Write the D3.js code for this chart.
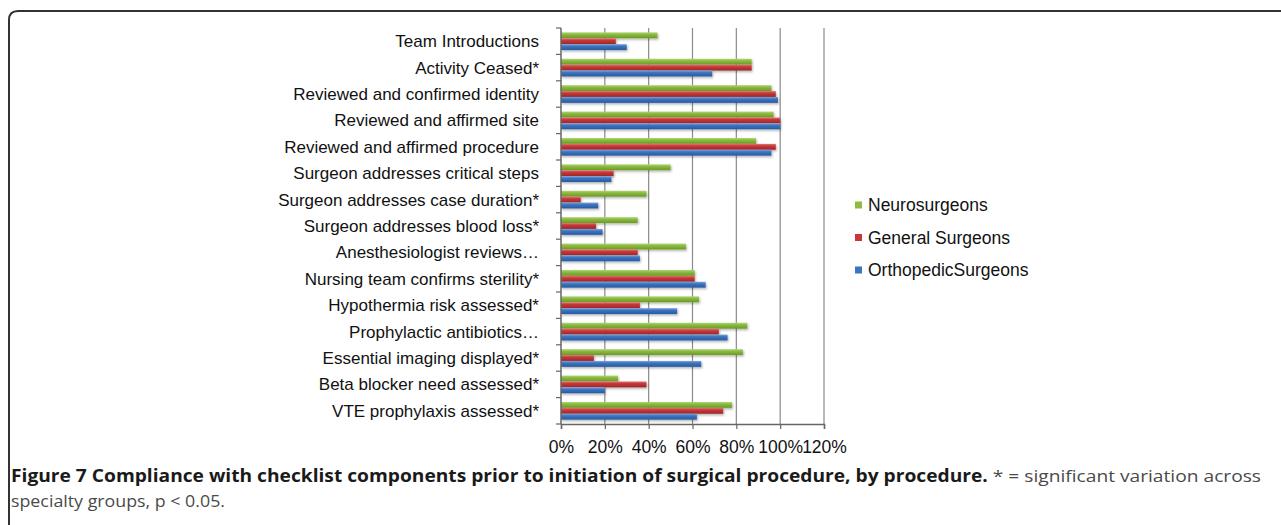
<!DOCTYPE html>
<html>
<head>
<meta charset="utf-8">
<script src="https://cdn.jsdelivr.net/npm/d3@7"></script>
<style>
  body { margin: 0; background: #fff; }
  svg { display: block; font-family: "Liberation Sans", Arial, sans-serif; }
  .caption { font-family: "Open Sans", sans-serif; }
</style>
</head>
<body>
<svg id="chart" width="1281" height="525"></svg>
<script>
var categories = [
  "Team Introductions",
  "Activity Ceased*",
  "Reviewed and confirmed identity",
  "Reviewed and affirmed site",
  "Reviewed and affirmed procedure",
  "Surgeon addresses critical steps",
  "Surgeon addresses case duration*",
  "Surgeon addresses blood loss*",
  "Anesthesiologist reviews…",
  "Nursing team confirms sterility*",
  "Hypothermia risk assessed*",
  "Prophylactic antibiotics…",
  "Essential imaging displayed*",
  "Beta blocker need assessed*",
  "VTE prophylaxis assessed*"
];
var seriesNames = ["Neurosurgeons", "General Surgeons", "OrthopedicSurgeons"];
var neuro   = [44, 87, 96, 97, 89, 50, 39, 35, 57, 61, 63, 85, 83, 26, 78];
var general = [25, 87, 98, 100, 98, 24, 9, 16, 35, 61, 36, 72, 15, 39, 74];
var ortho   = [30, 69, 99, 100, 96, 23, 17, 19, 36, 66, 53, 76, 64, 20, 62];
var xTicks = [0, 20, 40, 60, 80, 100, 120];
var captionBold = "Figure 7 Compliance with checklist components prior to initiation of surgical procedure, by procedure.";
var captionRest = " * = significant variation across";
var captionLine2 = "specialty groups, p < 0.05.";

function chart() {
  var svg = d3.select("#chart"),
      margin = { top: 28, left: 561 },
      plotW = 263,
      plotH = 396;

  var colors = [
    ["#b2d67a", "#8cbb3f", "#6a9a26"],
    ["#e07a76", "#c8383a", "#9e2624"],
    ["#7ea6dc", "#3c74c2", "#275a9e"]
  ];

  var defs = svg.append("defs");
  colors.forEach((c, i) => {
    var g = defs.append("linearGradient")
      .attr("id", "grad" + i)
      .attr("x1", 0).attr("y1", 0).attr("x2", 0).attr("y2", 1);
    g.append("stop").attr("offset", "0%").attr("stop-color", c[0]);
    g.append("stop").attr("offset", "35%").attr("stop-color", c[1]);
    g.append("stop").attr("offset", "100%").attr("stop-color", c[2]);
  });
  var shadow = defs.append("filter").attr("id", "shadow")
    .attr("x", "-5%").attr("y", "-30%").attr("width", "110%").attr("height", "180%");
  shadow.append("feDropShadow")
    .attr("dx", 1).attr("dy", 1.5).attr("stdDeviation", 1)
    .attr("flood-color", "#000").attr("flood-opacity", 0.3);

  // frame round the figure
  svg.append("path")
    .attr("d", "M9,525 L9,20 Q9,11 18,11 L1281,11")
    .attr("fill", "none")
    .attr("stroke", "#333")
    .attr("stroke-width", 2);

  var x = d3.scaleLinear().domain([0, 120]).range([margin.left, margin.left + plotW]);
  var y = d3.scaleBand()
    .domain(categories)
    .range([margin.top, margin.top + plotH])
    .paddingInner(0.33)
    .paddingOuter(0.165);
  var ySub = d3.scaleBand().domain([0, 1, 2]).range([0, y.bandwidth()]);

  // vertical gridlines
  svg.append("g")
    .selectAll("line")
    .data(xTicks.slice(1))
    .join("line")
    .attr("x1", (d) => x(d)).attr("x2", (d) => x(d))
    .attr("y1", margin.top).attr("y2", margin.top + plotH)
    .attr("stroke", "#8a8a8a")
    .attr("stroke-width", 1.2);

  // bars
  var series = [neuro, general, ortho];
  series.forEach((vals, i) => {
    svg.append("g")
      .attr("filter", "url(#shadow)")
      .selectAll("rect")
      .data(vals)
      .join("rect")
      .attr("x", x(0))
      .attr("y", (d, j) => y(categories[j]) + ySub(i))
      .attr("width", (d) => x(d) - x(0))
      .attr("height", ySub.bandwidth())
      .attr("fill", "url(#grad" + i + ")");
  });

  // left axis: boundary ticks between categories
  var step = y.step();
  var bounds = d3.range(categories.length + 1).map((k) => margin.top + k * step);
  var left = svg.append("g");
  left.append("line")
    .attr("x1", x(0)).attr("x2", x(0))
    .attr("y1", margin.top).attr("y2", margin.top + plotH)
    .attr("stroke", "#666").attr("stroke-width", 1.5);
  left.selectAll(".tk")
    .data(bounds)
    .join("line")
    .attr("class", "tk")
    .attr("x1", x(0) - 5).attr("x2", x(0))
    .attr("y1", (d) => d).attr("y2", (d) => d)
    .attr("stroke", "#666").attr("stroke-width", 1.2);

  left.selectAll("text")
    .data(categories)
    .join("text")
    .attr("x", 539)
    .attr("y", (d) => y(d) + y.bandwidth() / 2)
    .attr("dy", "0.35em")
    .attr("text-anchor", "end")
    .attr("font-size", 17)
    .attr("fill", "#111")
    .text((d) => d);

  // bottom axis
  svg.append("g")
    .attr("transform", "translate(0," + (margin.top + plotH) + ")")
    .call(d3.axisBottom(x).tickValues(xTicks).tickSize(5).tickFormat((d) => d + "%"))
    .call((g) => {
      g.attr("font-family", null);
      g.select(".domain").attr("stroke", "#666").attr("stroke-width", 1.5);
      g.selectAll(".tick line").attr("stroke", "#666").attr("stroke-width", 1.2);
      g.selectAll(".tick text")
        .attr("font-size", 17.5)
        .attr("fill", "#111")
        .attr("dy", "1.2em");
    });

  // legend
  var legend = svg.append("g")
    .selectAll("g")
    .data(seriesNames)
    .join("g")
    .attr("transform", (d, i) => "translate(855," + (205 + i * 32.5) + ")");
  legend.append("rect")
    .attr("x", 0).attr("y", -3.5)
    .attr("width", 7).attr("height", 7)
    .attr("fill", (d, i) => colors[i][1]);
  legend.append("text")
    .attr("x", 13)
    .attr("dy", "0.35em")
    .attr("font-size", 17.5)
    .attr("fill", "#111")
    .text((d) => d);

  // caption
  var cap = svg.append("text")
    .attr("class", "caption")
    .attr("x", 11)
    .attr("y", 482)
    .attr("font-size", 17)
    .attr("textLength", 1250)
    .attr("lengthAdjust", "spacingAndGlyphs");
  cap.append("tspan").attr("font-weight", "bold").attr("fill", "#1a1a1a").text(captionBold);
  cap.append("tspan").attr("fill", "#4a4a4a").text(captionRest);

  svg.append("text")
    .attr("class", "caption")
    .attr("x", 11)
    .attr("y", 507)
    .attr("font-size", 17)
    .attr("fill", "#4a4a4a")
    .attr("textLength", 214)
    .attr("lengthAdjust", "spacingAndGlyphs")
    .text(captionLine2);
}

chart();
</script>
</body>
</html>
